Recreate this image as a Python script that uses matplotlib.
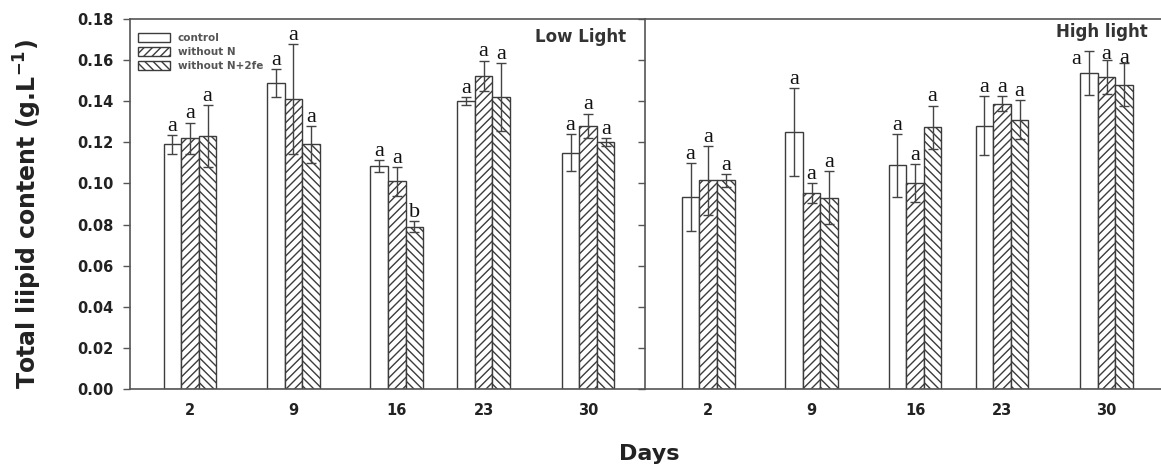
import numpy as np
import matplotlib.pyplot as plt

# Data ---------------------------------------------------------------------------------
days = ['2', '9', '16', '23', '30']
series = ['control', 'without N', 'without N+2fe']

# Low light
low_control = [0.119, 0.149, 0.1085, 0.140, 0.115]
low_control_err = [0.0045, 0.0068, 0.003, 0.002, 0.009]
low_noN = [0.122, 0.141, 0.101, 0.1525, 0.128]
low_noN_err = [0.0076, 0.0267, 0.007, 0.0073, 0.006]
low_noN2fe = [0.123, 0.119, 0.079, 0.142, 0.120]
low_noN2fe_err = [0.015, 0.009, 0.0026, 0.0166, 0.002]
low_letters = [['a', 'a', 'a', 'a', 'a'],
               ['a', 'a', 'a', 'a', 'a'],
               ['a', 'a', 'b', 'a', 'a']]

# High light
high_control = [0.0934, 0.125, 0.1088, 0.128, 0.1536]
high_control_err = [0.0165, 0.0213, 0.0154, 0.0144, 0.0107]
high_noN = [0.1015, 0.0954, 0.1002, 0.1387, 0.1517]
high_noN_err = [0.0167, 0.0049, 0.0094, 0.0036, 0.0084]
high_noN2fe = [0.1015, 0.0931, 0.1274, 0.1311, 0.1481]
high_noN2fe_err = [0.003, 0.013, 0.0105, 0.0093, 0.0104]
high_letters = [['a', 'a', 'a', 'a', 'a'],
                ['a', 'a', 'a', 'a', 'a'],
                ['a', 'a', 'a', 'a', 'a']]
# --------------------------------------------------------------------------------------

# Layout -------------------------------------------------------------------------------
W, H = 1161, 468
xpos = np.array([0, 1, 2, 2.84, 3.85])  # group centres (day 23 sits closer in the original)
bw = 0.17
offsets = [-bw, 0, bw]
hatches = ['', '////', '\\\\\\\\']
edge = '#3c3c3c'
plt.rcParams['hatch.linewidth'] = 1.0

# letter offsets (points) where the original moved a letter aside : (panel, series, day)
letter_nudge = {(1, 0, 4): (-9, -9), (1, 1, 4): (0, 1), (1, 2, 4): (0, 0)}

fig = plt.figure(figsize=(W / 100, H / 100), dpi=100)
y0 = (H - 389) / H
h = 370 / H
ax1 = fig.add_axes([130 / W, y0, 515 / W, h])
ax2 = fig.add_axes([645 / W, y0, 520 / W, h])
# --------------------------------------------------------------------------------------

panels = [
    (ax1, [low_control, low_noN, low_noN2fe], [low_control_err, low_noN_err, low_noN2fe_err], low_letters, (-0.58, 4.40)),
    (ax2, [high_control, high_noN, high_noN2fe], [high_control_err, high_noN_err, high_noN2fe_err], high_letters, (-0.61, 4.415)),
]

for p, (ax, vals, errs, letters, xl) in enumerate(panels):
    for k in range(3):
        x = xpos + offsets[k]
        ax.bar(x, vals[k], width=bw, color='white', edgecolor=edge, linewidth=1.0,
               hatch=hatches[k], label=series[k], zorder=2)
        ax.errorbar(x, vals[k], yerr=errs[k], fmt='none', ecolor='#444444',
                    elinewidth=1.0, capsize=3.5, capthick=1.0, zorder=3)
        for i in range(len(days)):
            off = letter_nudge.get((p, k, i), (0, 3))
            ax.annotate(letters[k][i], (x[i], vals[k][i] + errs[k][i]), xytext=off,
                        textcoords='offset points', ha='center', va='baseline',
                        family='Liberation Serif', fontsize=16, color='#111111')
    ax.set_xlim(*xl)
    ax.set_ylim(0, 0.18)
    ax.set_xticks(xpos)
    ax.set_xticklabels(days, fontsize=10.5, fontweight='bold', color='#222222')
    ax.tick_params(axis='x', length=0, pad=10)
    ax.set_yticks(np.arange(0, 0.181, 0.02))
    ax.yaxis.set_ticks_position('left')
    ax.tick_params(axis='y', direction='out', length=5, width=1, color='#555555')
    for s in ax.spines.values():
        s.set_color('#555555')
        s.set_linewidth(1.2)

ax1.set_yticklabels([f'{v:.2f}' for v in np.arange(0, 0.181, 0.02)],
                    fontsize=10.5, fontweight='bold', color='#222222')
ax1.tick_params(axis='y', pad=7)
ax1.spines['right'].set_visible(False)
ax2.set_yticklabels([])
ax2.spines['right'].set_visible(False)

ax1.text(0.963, 0.975, 'Low Light', transform=ax1.transAxes, ha='right', va='top',
         fontsize=12, fontweight='bold', color='#333333')
ax2.text(0.967, 0.99, 'High light', transform=ax2.transAxes, ha='right', va='top',
         fontsize=12, fontweight='bold', color='#333333')

ax1.legend(loc='upper left', bbox_to_anchor=(0.0, 0.985), frameon=False,
           prop={'size': 7.5, 'weight': 'bold'}, labelcolor='#555555',
           handlelength=3.0, handleheight=0.9, labelspacing=0.4, borderpad=0.3)

fig.text(649 / W, 1 - 454 / H, 'Days', ha='center', va='center',
         fontsize=16, fontweight='bold', color='#222222')
fig.text(28 / W, 1 - 214 / H, 'Total liipid content (g.L$^{\\mathbf{-1}}$)', rotation=90,
         ha='center', va='center', fontsize=17, fontweight='bold', color='#222222')

fig.savefig('out.png', dpi=100)
